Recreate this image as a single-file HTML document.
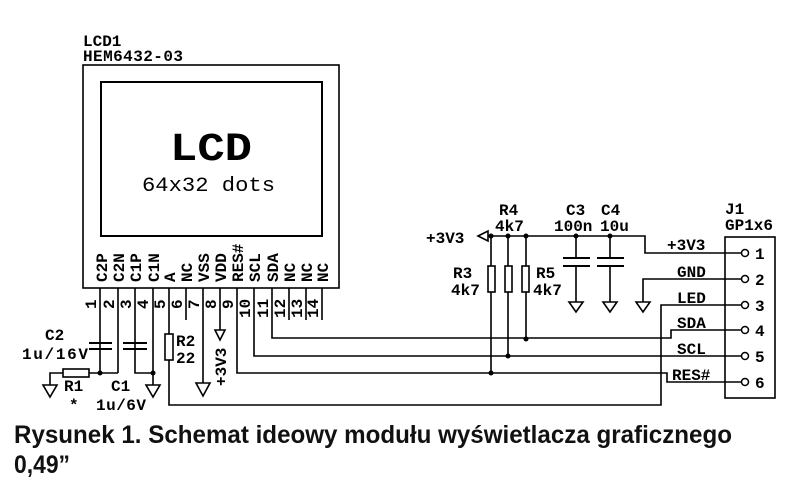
<!DOCTYPE html>
<html><head><meta charset="utf-8"><style>
html,body{margin:0;padding:0;background:#fff;}
svg{display:block;}
.s{font-family:"Liberation Mono",monospace;font-weight:bold;font-size:16px;fill:#000;}
</style></head><body>
<svg width="796" height="490" viewBox="0 0 796 490" xmlns="http://www.w3.org/2000/svg">
<g fill="none" stroke="#000" stroke-width="1.6">
<rect x="83" y="65" width="256" height="223"/>
<rect x="101" y="82" width="221" height="154" stroke-width="2"/>
<path d="M100 288V373 M118 288V373 M135 288V373H153 M153 288V385 M169 288V405H661V305H741 M186 288V320 M203 288V383 M220 288V330 M237 288V373H667V382H741 M254 288V356H741 M272 288V338H671V330H741 M289 288V320 M306 288V320 M322 288V320"/>
<path d="M89 343H112 M89 349H112 M123 343H147 M123 349H147" stroke-width="2"/>
<rect x="63" y="369" width="26" height="8" fill="#fff"/>
<path d="M89 373H118 M63 373H50V385"/>
<path d="M43 385H57L50 397Z M146 385H160L153 397Z M196 383H210L203 396Z"/>
<rect x="165" y="334" width="8" height="26" fill="#fff"/>
<path d="M215 330H225L220 340Z"/>
<path d="M488 236H645V253H741 M491 236V373 M508 236V356 M526 236V339 M576 236V258 M576 266V302 M610 236V258 M610 266V302 M741 279H643V302"/>
<path d="M478 236L488 231V241Z"/>
<path d="M563 258H590M563 266H590M597 258H624M597 266H624" stroke-width="2"/>
<rect x="488" y="266" width="7" height="26" fill="#fff"/>
<rect x="505" y="266" width="7" height="26" fill="#fff"/>
<rect x="522" y="266" width="7" height="26" fill="#fff"/>
<path d="M569 302H583L576 312Z M603 302H617L610 312Z M636 302H650L643 312Z"/>
<rect x="725" y="237" width="50" height="161"/>
</g>
<g fill="#000">
<circle cx="100" cy="373" r="2.5"/><circle cx="153" cy="373" r="2.5"/>
<circle cx="491" cy="236" r="2.5"/><circle cx="508" cy="236" r="2.5"/><circle cx="526" cy="236" r="2.5"/>
<circle cx="576" cy="236" r="2.5"/><circle cx="610" cy="236" r="2.5"/>
<circle cx="491" cy="373" r="2.5"/><circle cx="508" cy="356" r="2.5"/><circle cx="526" cy="339" r="2.5"/>
</g>
<g fill="#fff" stroke="#000" stroke-width="1.5">
<circle cx="745" cy="253" r="3.5"/><circle cx="745" cy="279" r="3.5"/><circle cx="745" cy="305" r="3.5"/>
<circle cx="745" cy="330" r="3.5"/><circle cx="745" cy="356" r="3.5"/><circle cx="745" cy="382" r="3.5"/>
</g>
<g class="s">
<text x="83" y="46">LCD1</text>
<text x="83" y="61" textLength="100">HEM6432-03</text>
<text x="170" y="160" style="font-size:40px" textLength="82" lengthAdjust="spacingAndGlyphs">LCD</text>
<text x="142" y="191" style="font-size:20px;font-weight:normal" textLength="133" lengthAdjust="spacingAndGlyphs">64x32 dots</text>
</g>
<g class="s">
<text transform="translate(107,282) rotate(-90)">C2P</text>
<text transform="translate(124,282) rotate(-90)">C2N</text>
<text transform="translate(141,282) rotate(-90)">C1P</text>
<text transform="translate(159,282) rotate(-90)">C1N</text>
<text transform="translate(175,282) rotate(-90)">A</text>
<text transform="translate(192,282) rotate(-90)">NC</text>
<text transform="translate(209,282) rotate(-90)">VSS</text>
<text transform="translate(226,282) rotate(-90)">VDD</text>
<text transform="translate(243,282) rotate(-90)">RES#</text>
<text transform="translate(260,282) rotate(-90)">SCL</text>
<text transform="translate(278,282) rotate(-90)">SDA</text>
<text transform="translate(295,282) rotate(-90)">NC</text>
<text transform="translate(312,282) rotate(-90)">NC</text>
<text transform="translate(328,282) rotate(-90)">NC</text>
<text transform="translate(96,309) rotate(-90)">1</text>
<text transform="translate(114,309) rotate(-90)">2</text>
<text transform="translate(131,309) rotate(-90)">3</text>
<text transform="translate(148,309) rotate(-90)">4</text>
<text transform="translate(165,309) rotate(-90)">5</text>
<text transform="translate(182,309) rotate(-90)">6</text>
<text transform="translate(199,309) rotate(-90)">7</text>
<text transform="translate(216,309) rotate(-90)">8</text>
<text transform="translate(233,309) rotate(-90)">9</text>
<text transform="translate(250,318) rotate(-90)">10</text>
<text transform="translate(268,318) rotate(-90)">11</text>
<text transform="translate(285,318) rotate(-90)">12</text>
<text transform="translate(302,318) rotate(-90)">13</text>
<text transform="translate(318,318) rotate(-90)">14</text>
<text transform="translate(226,386) rotate(-90)">+3V3</text>
<text x="45" y="340">C2</text>
<text x="22" y="359" textLength="66">1u/16V</text>
<text x="64" y="391">R1</text>
<text x="69" y="410">*</text>
<text x="111" y="391">C1</text>
<text x="96" y="410" textLength="50">1u/6V</text>
<text x="176" y="346">R2</text>
<text x="176" y="363">22</text>
<text x="426" y="243">+3V3</text>
<text x="499" y="215">R4</text>
<text x="495" y="231">4k7</text>
<text x="566" y="215">C3</text>
<text x="554" y="231">100n</text>
<text x="601" y="215">C4</text>
<text x="600" y="231">10u</text>
<text x="453" y="278">R3</text>
<text x="451" y="295">4k7</text>
<text x="536" y="278">R5</text>
<text x="533" y="295">4k7</text>
<text x="667" y="250">+3V3</text>
<text x="677" y="277">GND</text>
<text x="677" y="303">LED</text>
<text x="677" y="328">SDA</text>
<text x="677" y="354">SCL</text>
<text x="672" y="380">RES#</text>
<text x="725" y="214">J1</text>
<text x="725" y="230">GP1x6</text>
<text x="755" y="259">1</text><text x="755" y="285">2</text><text x="755" y="311">3</text>
<text x="755" y="336">4</text><text x="755" y="362">5</text><text x="755" y="388">6</text>
</g>
<g style="font-family:'Liberation Sans',sans-serif;font-weight:bold;font-size:25px;fill:#111">
<text x="14" y="443" textLength="718" lengthAdjust="spacingAndGlyphs">Rysunek 1. Schemat ideowy modułu wyświetlacza graficznego</text>
<text x="14" y="473" textLength="56" lengthAdjust="spacingAndGlyphs">0,49”</text>
</g>
</svg>
</body></html>
